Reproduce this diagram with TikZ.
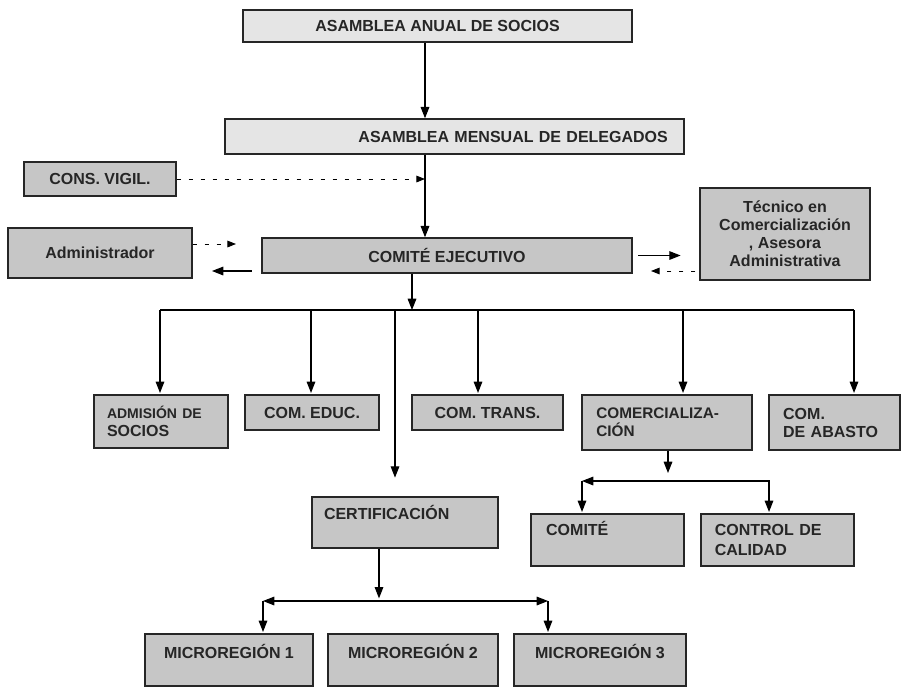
\documentclass[tikz,border=0pt]{standalone}
\usepackage{fontspec}
\setmainfont{Liberation Sans}
\usetikzlibrary{arrows.meta,calc}

\tikzset{
	caja/.style={draw=black!85, line width=1.1pt, fill=gray!45, text=black!85, inner sep=0pt,
		font=\bfseries\fontsize{12}{13.5}\selectfont},
	clara/.style={caja, fill=gray!20},
	dim/.style 2 args={minimum width=#1*0.75pt, minimum height=#2*0.75pt},
	flecha/.style={line width=0.8pt, -{Triangle[length=8.5pt,width=6.5pt]}},
	linea/.style={line width=0.8pt},
	punteada/.style={line width=0.7pt, dash pattern=on 3pt off 6pt, -{Triangle[length=6.5pt,width=5pt]}}
}

\begin{document}
\begin{tikzpicture}[x=0.75pt,y=-0.75pt]
			%%%%% START %%%%%
			\useasboundingbox (0,0) rectangle (903,687);
			
			\coordinate (eje) at (425,0);
			
			\node[clara, dim={389}{32}] (anual) at (437.5,26) {ASAMBLEA ANUAL DE SOCIOS};
			\node[clara, dim={459}{35}, text width=320pt, align=right] (mensual) at (454.5,136.5) {ASAMBLEA MENSUAL DE DELEGADOS};
			
			\node[caja, dim={152}{34}] (vigil) at (100,179) {CONS. VIGIL.};
			\node[caja, dim={184}{50}] (admin) at (100,253) {Administrador};
			\node[caja, dim={370}{35}] (ejec) at (447,255.5) {COMITÉ EJECUTIVO};
			\node[caja, dim={170}{92}, align=center] (tecnico) at (785,234) {Técnico en\\Comercialización\\, Asesora\\Administrativa};
			
			\node[caja, dim={134}{53}, text width=81pt, align=left] (admision) at (161,421.5) {{\fontsize{10.5}{12}\selectfont ADMISIÓN DE}\\SOCIOS};
			\node[caja, dim={134}{35}] (educ) at (312,412.5) {COM. EDUC.};
			\node[caja, dim={151}{35}] (trans) at (487.5,412.5) {COM. TRANS.};
			\node[caja, dim={170}{55}, text width=106pt, align=left, font=\bfseries\fontsize{11.5}{13.5}\selectfont] (comerc) at (667,422.5) {COMERCIALIZA-\\CIÓN};
			\node[caja, dim={131}{55}, text width=77pt, align=left] (abasto) at (834.5,422.5) {COM.\\DE ABASTO};
			
			\node[caja, dim={186}{51}, text width=121.5pt, align=left, text depth=15pt] (cert) at (405,522.5) {CERTIFICACIÓN};
			\node[caja, dim={153}{52}, text width=92pt, align=left, text depth=17pt] (comite) at (607.5,540) {COMITÉ};
			\node[caja, dim={153}{52}, text width=94pt, align=left, font=\bfseries\fontsize{12}{15}\selectfont] (calidad) at (777.5,540) {CONTROL DE\\CALIDAD};
			
			\node[caja, dim={168}{52}, text depth=13pt] (micro1) at (229,660) {MICROREGIÓN 1};
			\node[caja, dim={170}{52}, text depth=13pt] (micro2) at (413,660) {MICROREGIÓN 2};
			\node[caja, dim={172}{52}, text depth=13pt] (micro3) at (600,660) {MICROREGIÓN 3};
			
			% asambleas y comite ejecutivo
			\draw[flecha] (anual.south -| eje) -- (mensual.north -| eje);
			\draw[flecha] (mensual.south -| eje) -- (ejec.north -| eje);
			\draw[punteada] (vigil.east) -- (vigil.east -| eje);
			
			\coordinate (ad1) at (236,244);
			\coordinate (ad2) at (212,271);
			\coordinate (te1) at (651,271);
			\draw[punteada] (admin.east |- ad1) -- (ad1);
			\draw[flecha, shorten <=7pt] (ejec.west |- ad2) -- (ad2);
			\draw[flecha, shorten <=4pt, shorten >=14pt] (ejec.east) -- (tecnico.west |- ejec.east);
			\draw[punteada, shorten <=3pt] (tecnico.west |- te1) -- (te1);
			
			% comisiones
			\coordinate (rama) at (412,310);
			\coordinate (b1) at (160,310);
			\coordinate (b5) at (854,310);
			\draw[flecha] (ejec.south -| rama) -- (rama);
			\draw[linea] (b1) -- (b5);
			\foreach \n/\x in {admision/160, educ/311, trans/478, comerc/683, abasto/854}
				\draw[flecha, shorten >=1pt] (\x,310) -- (\n.north -| \x,0);
			\draw[flecha, shorten >=14pt] (395,310) -- (cert.north -| 395,0);
			
			% comercializacion
			\coordinate (c1) at (668,481);
			\coordinate (cc1) at (582,481);
			\coordinate (cc2) at (769,481);
			\draw[flecha, shorten >=6pt] (comerc.south -| c1) -- (c1);
			\draw[flecha] (c1) -- (cc1);
			\draw[flecha, shorten >=1pt] (cc1) -- (comite.north -| cc1);
			\draw[flecha, shorten >=1pt] (c1) -- (cc2) -- (calidad.north -| cc2);
			
			% microregiones
			\coordinate (m0) at (379,601);
			\coordinate (mm1) at (263,601);
			\coordinate (mm3) at (548,601);
			\draw[flecha, shorten >=2pt] (cert.south -| m0) -- (m0);
			\draw[flecha] (m0) -- (mm1);
			\draw[flecha] (m0) -- (mm3);
			\draw[flecha, shorten >=1pt] (mm1) -- (micro1.north -| mm1);
			\draw[flecha, shorten >=1pt] (mm3) -- (micro3.north -| mm3);
			
			%%%%% END %%%%%
\end{tikzpicture}
\end{document}
